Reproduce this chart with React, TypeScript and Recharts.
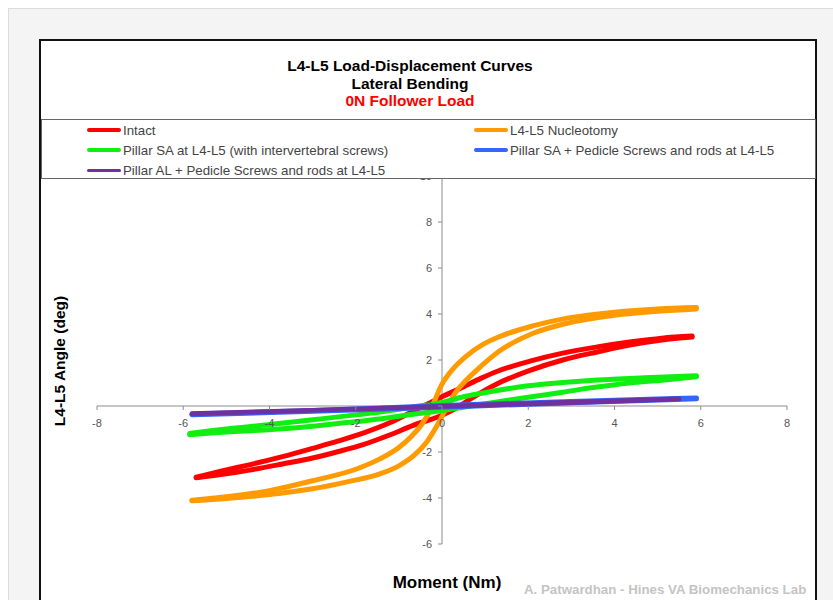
import { LineChart, Line, XAxis, YAxis, ReferenceLine, ReferenceDot } from "recharts";

// axis ticks (Nm on x, deg on y)
const X_TICKS = [-8, -6, -4, -2, 0, 2, 4, 6, 8];
const Y_TICKS = [-6, -4, -2, 0, 2, 4, 6, 8, 10];

// each hysteresis loop is split in two branches, both listed left -> right
const INTACT_UP: [number, number][] = [
  [-5.7, -3.1], [-5.0, -2.78], [-4.5, -2.57], [-3.7, -2.2], [-3.0, -1.84], [-2.4, -1.52],
  [-1.83, -1.18], [-1.2, -0.72], [-0.67, -0.23], [-0.3, 0.12], [0, 0.4], [0.49, 0.83],
  [0.9, 1.2], [1.27, 1.5], [2.04, 1.95], [2.8, 2.3], [3.6, 2.57], [4.35, 2.78],
  [5.1, 2.95], [5.8, 3.04],
];
const INTACT_DOWN: [number, number][] = [
  [-5.7, -3.12], [-5.0, -2.95], [-4.5, -2.8], [-3.7, -2.52], [-3.0, -2.26], [-2.4, -1.98],
  [-1.83, -1.68], [-1.2, -1.25], [-0.67, -0.84], [0, -0.4], [0.3, -0.12], [0.72, 0.38],
  [1.27, 0.96], [2.04, 1.55], [2.8, 2.0], [3.6, 2.35], [4.35, 2.65], [5.1, 2.87],
  [5.8, 3.0],
];

const NUCLEOTOMY_UP: [number, number][] = [
  [-5.8, -4.1], [-5.0, -3.95], [-4.0, -3.68], [-3.0, -3.25], [-2.0, -2.75], [-1.44, -2.3],
  [-1.0, -1.8], [-0.7, -1.3], [-0.45, -0.75], [-0.25, -0.1], [0, 0.95], [0.25, 1.6],
  [0.55, 2.15], [0.95, 2.68], [1.34, 3.02], [2.1, 3.48], [2.9, 3.82], [4.0, 4.08],
  [5.0, 4.22], [5.9, 4.28],
];
const NUCLEOTOMY_DOWN: [number, number][] = [
  [-5.8, -4.12], [-5.0, -4.02], [-4.0, -3.85], [-3.0, -3.6], [-2.2, -3.3], [-1.44, -2.95],
  [-1.0, -2.6], [-0.65, -2.15], [-0.35, -1.55], [-0.1, -0.8], [0.1, -0.1], [0.3, 0.55],
  [0.55, 1.1], [0.8, 1.55], [1.34, 2.4], [2.1, 3.15], [2.9, 3.6], [4.0, 3.95],
  [5.0, 4.12], [5.9, 4.22],
];

const PILLAR_SA_IVS_UP: [number, number][] = [
  [-5.85, -1.2], [-5.0, -1.0], [-4.1, -0.83], [-3.0, -0.6], [-2.2, -0.43], [-1.4, -0.25],
  [-0.67, -0.04], [0, 0.15], [0.5, 0.4], [1.2, 0.65], [2.0, 0.88], [2.8, 1.02],
  [3.6, 1.13], [4.7, 1.23], [5.9, 1.32],
];
const PILLAR_SA_IVS_DOWN: [number, number][] = [
  [-5.85, -1.25], [-5.0, -1.13], [-4.1, -1.04], [-3.0, -0.88], [-2.2, -0.72], [-1.4, -0.55],
  [-0.67, -0.36], [0, -0.2], [0.6, -0.02], [1.27, 0.17], [2.0, 0.38], [2.8, 0.6],
  [3.5, 0.8], [4.35, 1.0], [5.1, 1.12], [5.9, 1.27],
];

const PILLAR_SA_PS_UP: [number, number][] = [
  [-5.8, -0.35], [-3.0, -0.2], [0, 0.02], [3.0, 0.2], [5.9, 0.35],
];
const PILLAR_SA_PS_DOWN: [number, number][] = [
  [-5.8, -0.38], [-3.0, -0.23], [0, -0.05], [3.0, 0.14], [5.9, 0.31],
];

const PILLAR_AL_PS_UP: [number, number][] = [
  [-5.8, -0.32], [-3.0, -0.17], [0, 0.0], [3.0, 0.18], [5.5, 0.33],
];
const PILLAR_AL_PS_DOWN: [number, number][] = [
  [-5.8, -0.36], [-3.0, -0.2], [0, -0.03], [3.0, 0.13], [5.5, 0.29],
];

const SERIES = [
  { name: "Intact", color: "#ff0000", width: 5, branches: [INTACT_UP, INTACT_DOWN], col: 0, row: 0 },
  { name: "L4-L5 Nucleotomy", color: "#ff9a00", width: 5, branches: [NUCLEOTOMY_UP, NUCLEOTOMY_DOWN], col: 1, row: 0 },
  { name: "Pillar SA at L4-L5 (with intervertebral screws)", color: "#11ee11", width: 5, branches: [PILLAR_SA_IVS_UP, PILLAR_SA_IVS_DOWN], col: 0, row: 1 },
  { name: "Pillar SA + Pedicle Screws and rods at L4-L5", color: "#3366ff", width: 5, branches: [PILLAR_SA_PS_UP, PILLAR_SA_PS_DOWN], col: 1, row: 1 },
  { name: "Pillar AL + Pedicle Screws and rods at L4-L5", color: "#7030a0", width: 4, branches: [PILLAR_AL_PS_UP, PILLAR_AL_PS_DOWN], col: 0, row: 2 },
];

const FONT = "'Liberation Sans', Arial, sans-serif";
const AXIS = "#8c8c8c";
const TICK_TEXT = "#555";

const xTickShape = (v: number) => (p: any) => (
  <g>
    <line x1={p.cx} x2={p.cx} y1={p.cy} y2={p.cy + 4} stroke={AXIS} />
    <text x={p.cx} y={p.cy + 21} textAnchor="middle" fontSize={11} fill={TICK_TEXT} fontFamily={FONT}>
      {v}
    </text>
  </g>
);

const yTickShape = (v: number) => (p: any) => (
  <g>
    <line x1={p.cx - 4} x2={p.cx} y1={p.cy} y2={p.cy} stroke={AXIS} />
    <text x={p.cx - 10} y={p.cy + 4} textAnchor="end" fontSize={11} fill={TICK_TEXT} fontFamily={FONT}>
      {v}
    </text>
  </g>
);

export default function App() {
  return (
    <div style={{ position: "absolute", left: 0, top: 0, width: 833, height: 600, overflow: "hidden", background: "#fff", fontFamily: FONT }}>
      <div style={{ position: "absolute", left: 8, top: 8, width: 825, height: 592, background: "#f4f4f4", borderTop: "1px solid #dcdcdc", borderLeft: "1px solid #dcdcdc" }} />
      <div style={{ position: "absolute", left: 39, top: 39, width: 778, height: 600, background: "#fff", border: "2px solid #111", boxSizing: "border-box" }} />

      <div style={{ position: "absolute", left: 0, top: 0 }}>
        <LineChart width={833} height={600} margin={{ left: 97, right: 46, top: 176, bottom: 56 }}>
          <XAxis type="number" dataKey="x" domain={[-8, 8]} ticks={X_TICKS} hide allowDataOverflow />
          <YAxis type="number" dataKey="y" domain={[-6, 10]} ticks={Y_TICKS} hide allowDataOverflow />
          <ReferenceLine y={0} stroke={AXIS} strokeWidth={1} />
          <ReferenceLine x={0} stroke={AXIS} strokeWidth={1} />
          {X_TICKS.map((t) => (
            <ReferenceDot key={`x${t}`} x={t} y={0} r={0} ifOverflow="visible" shape={xTickShape(t)} />
          ))}
          {Y_TICKS.map((t) => (
            <ReferenceDot key={`y${t}`} x={0} y={t} r={0} ifOverflow="visible" shape={yTickShape(t)} />
          ))}
          {SERIES.flatMap((s) =>
            s.branches.map((pts, i) => (
              <Line
                key={`${s.name}-${i}`}
                data={pts.map(([x, y]) => ({ x, y }))}
                dataKey="y"
                type="monotone"
                stroke={s.color}
                strokeWidth={s.width}
                strokeLinecap="round"
                strokeLinejoin="round"
                dot={false}
                activeDot={false}
                isAnimationActive={false}
              />
            ))
          )}
        </LineChart>
      </div>

      <div style={{ position: "absolute", left: 210, top: 57, width: 400, textAlign: "center", fontWeight: "bold", fontSize: 15.5, lineHeight: "17.5px", color: "#000" }}>
        <div>L4-L5 Load-Displacement Curves</div>
        <div>Lateral Bending</div>
        <div style={{ color: "#ff0000" }}>0N Follower Load</div>
      </div>

      <div style={{ position: "absolute", left: 41, top: 119, width: 775, height: 60, background: "#fff", border: "1px solid #666", boxSizing: "border-box" }}>
        {SERIES.map((s) => (
          <div
            key={s.name}
            style={{ position: "absolute", left: s.col === 0 ? 45 : 432, top: 1 + s.row * 20, height: 18, display: "flex", alignItems: "center", whiteSpace: "nowrap" }}
          >
            <span style={{ display: "inline-block", width: 34, height: s.width - 1, background: s.color, borderRadius: 2 }} />
            <span style={{ marginLeft: 2, fontSize: 13.3, color: "#444" }}>{s.name}</span>
          </div>
        ))}
      </div>

      <div style={{ position: "absolute", left: 60, top: 361, transform: "translate(-50%, -50%) rotate(-90deg)", whiteSpace: "nowrap", fontWeight: "bold", fontSize: 15.5, color: "#000" }}>
        L4-L5 Angle (deg)
      </div>
      <div style={{ position: "absolute", left: 447, top: 583, transform: "translate(-50%, -50%)", whiteSpace: "nowrap", fontWeight: "bold", fontSize: 17, color: "#000" }}>
        Moment (Nm)
      </div>
      <div style={{ position: "absolute", left: 524, top: 582, whiteSpace: "nowrap", fontWeight: "bold", fontSize: 13.3, color: "#c4c4c4" }}>
        A. Patwardhan - Hines VA Biomechanics Lab
      </div>
    </div>
  );
}
